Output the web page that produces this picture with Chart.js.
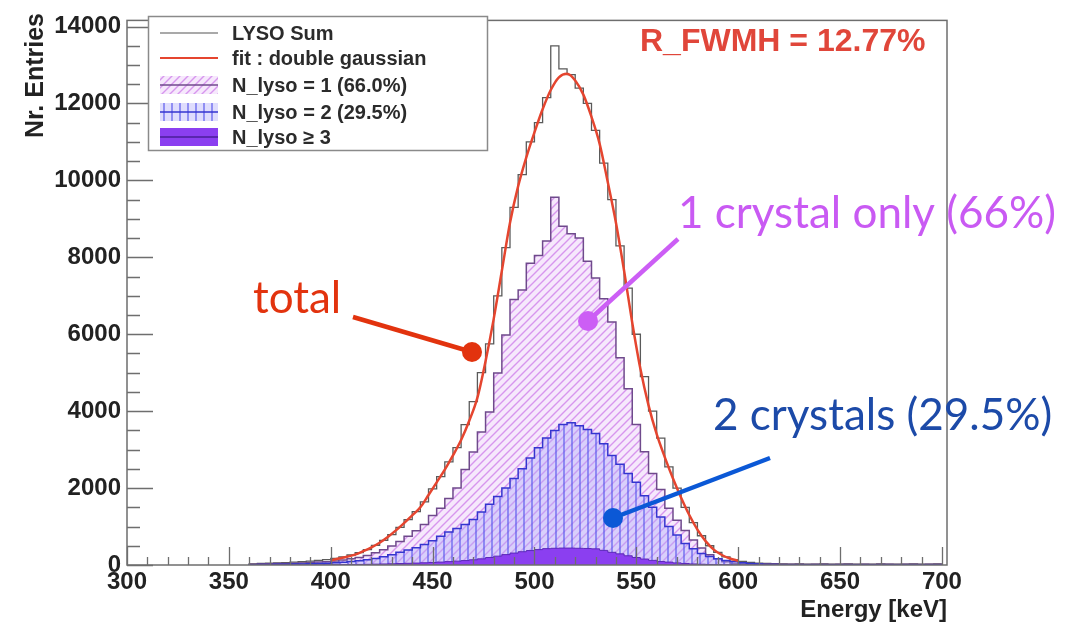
<!DOCTYPE html>
<html>
<head>
<meta charset="utf-8">
<title>LYSO energy spectrum</title>
<script src="https://cdn.jsdelivr.net/npm/chart.js@4.4.0/dist/chart.umd.min.js"></script>
<style>
  html, body { margin: 0; padding: 0; background: #ffffff; }
  #wrap { width: 1085px; height: 625px; position: relative; }
</style>
</head>
<body>
<div id="wrap"><canvas id="energyChart" width="1085" height="625"></canvas></div>
<script>
// Histogram binning (keV)
const BIN_START = 360;
const BIN_WIDTH = 4;

// LYSO Sum, entries per bin (bins 360-364 ... 696-700)
const lysoSum = [
  30, 40, 45, 55, 60, 75, 85, 100, 120, 140,
  170, 210, 260, 320, 400, 510, 640, 790, 980, 1180,
  1390, 1640, 1980, 2300, 2680, 3050, 3650, 4250, 5000, 5750,
  7000, 8250, 9300, 10150, 11000, 11500, 12150, 13500, 12900, 12750,
  12400, 12000, 11300, 10450, 9500, 8300, 7200, 6000, 4900, 4000,
  3300, 2550, 2000, 1500, 1100, 760, 500, 330, 210, 140,
  95, 65, 50, 40, 35, 30, 25, 30, 20, 25,
  30, 20, 25, 30, 20, 25, 20, 30, 25, 20,
  25, 30, 20, 25, 30
];

// N_lyso = 1
const nLyso1 = [
  22, 28, 31, 37, 40, 48, 55, 64, 76, 86,
  104, 130, 160, 197, 247, 318, 398, 493, 612, 746,
  890, 1052, 1284, 1474, 1732, 2000, 2485, 2935, 3460, 3975,
  4990, 5980, 6900, 7150, 7845, 8050, 8425, 9565, 8810, 8610,
  8500, 7900, 7460, 6920, 6320, 5390, 4580, 3655, 2945, 2380,
  1960, 1475, 1165, 900, 652, 440, 266, 160, 84, 46,
  32, 23, 23, 24, 24, 22, 19, 22, 15, 19,
  22, 15, 19, 22, 15, 19, 15, 22, 19, 15,
  19, 22, 15, 19, 22
];

// N_lyso = 2
const nLyso2 = [
  8, 12, 14, 18, 20, 25, 28, 33, 40, 48,
  58, 70, 88, 108, 135, 170, 215, 265, 330, 390,
  450, 530, 630, 750, 860, 950, 1050, 1180, 1380, 1580,
  1780, 2000, 2250, 2500, 2780, 3050, 3300, 3500, 3650, 3700,
  3620, 3520, 3420, 3150, 2850, 2620, 2380, 2150, 1800, 1500,
  1250, 1000, 780, 560, 420, 300, 220, 160, 120, 90,
  60, 40, 25, 15, 10, 8, 6, 8, 5, 6,
  8, 5, 6, 8, 5, 6, 5, 8, 6, 5,
  6, 8, 5, 6, 8
];

// N_lyso >= 3
const nLyso3 = [
  0, 0, 0, 0, 0, 2, 2, 3, 4, 6,
  8, 10, 12, 15, 18, 22, 27, 32, 38, 44,
  50, 58, 66, 76, 88, 100, 115, 135, 160, 195,
  230, 270, 310, 345, 375, 400, 425, 435, 440, 440,
  435, 430, 420, 380, 330, 290, 240, 195, 155, 120,
  90, 75, 55, 40, 28, 20, 14, 10, 6, 4,
  3, 2, 2, 1, 1, 0, 0, 0, 0, 0,
  0, 0, 0, 0, 0, 0, 0, 0, 0, 0,
  0, 0, 0, 0, 0
];

// Double gaussian fit, sampled every 4 keV from 400 to 600
const FIT_START = 400;
const FIT_STEP = 4;
const fitValues = [
  120, 170, 215, 270, 360, 460, 580, 730, 900, 1090,
  1290, 1500, 1820, 2150, 2480, 2850, 3250, 3750, 4350, 5300,
  6400, 7650, 8900, 9850, 10600, 11250, 11850, 12350, 12680, 12770,
  12600, 12230, 11650, 10950, 9950, 8900, 7650, 6300, 5100, 4150,
  3400, 2800, 2250, 1750, 1300, 920, 620, 400, 260, 170, 110
];

const xTickValues = [300, 350, 400, 450, 500, 550, 600, 650, 700];
const yTickValues = [0, 2000, 4000, 6000, 8000, 10000, 12000, 14000];

const legendLabels = ['LYSO Sum', 'fit : double gaussian', 'N_lyso = 1 (66.0%)', 'N_lyso = 2 (29.5%)', 'N_lyso \u2265 3'];
const resolutionText = 'R_FWMH = 12.77%';
const noteTotal = 'total';
const noteOne = '1 crystal only (66%)';
const noteTwo = '2 crystals (29.5%)';

const ROOT_FONT = '"Liberation Sans", Arial, Helvetica, sans-serif';
const NOTE_FONT = 'Lato, "Open Sans", sans-serif';

/**
 * Turn per-bin values into points for a stepped line
 */
function toSteps(values) {
  const pts = values.map((v, i) => ({ x: BIN_START + (i + 1) * BIN_WIDTH, y: v }));
  pts.unshift({ x: BIN_START, y: 0 });
  return pts;
}

/**
 * Small tiles used as ROOT-like fill styles
 */
function makeHatch(kind) {
  const size = 8;
  const c = document.createElement('canvas');
  c.width = size;
  c.height = size;
  const g = c.getContext('2d');
  if (kind === 'diag') {
    g.fillStyle = 'rgba(246,232,252,1)';
    g.fillRect(0, 0, size, size);
    g.strokeStyle = '#d796ee';
    g.lineWidth = 1.4;
    g.beginPath();
    g.moveTo(0, size); g.lineTo(size, 0);
    g.moveTo(-1, 1); g.lineTo(1, -1);
    g.moveTo(size - 1, size + 1); g.lineTo(size + 1, size - 1);
    g.stroke();
  } else {
    g.fillStyle = 'rgba(175,170,250,0.40)';
    g.fillRect(0, 0, size, size);
    g.strokeStyle = '#5c5cec';
    g.lineWidth = 1.2;
    g.beginPath();
    g.moveTo(4, 0); g.lineTo(4, size);
    g.stroke();
  }
  return g.createPattern(c, 'repeat');
}

const diagHatch = makeHatch('diag');
const vertHatch = makeHatch('vert');

// Frame and inward ticks, ROOT style
const rootFrame = {
  id: 'rootFrame',
  afterDatasetsDraw(chart) {
    const { ctx, chartArea: a, scales: { x, y } } = chart;
    ctx.save();
    ctx.strokeStyle = '#6e6e6e';
    ctx.lineWidth = 1.5;
    ctx.strokeRect(a.left, a.top, a.right - a.left, a.bottom - a.top);

    ctx.lineWidth = 1.3;
    ctx.beginPath();
    for (let v = 0; v <= y.max; v += 500) {
      const py = Math.round(y.getPixelForValue(v)) + 0.5;
      const len = v % 2000 === 0 ? 26 : 13;
      ctx.moveTo(a.left, py);
      ctx.lineTo(a.left + len, py);
    }
    for (let v = 300; v <= x.max; v += 10) {
      const px = Math.round(x.getPixelForValue(v)) + 0.5;
      const len = v % 50 === 0 ? 18 : 8;
      ctx.moveTo(px, a.bottom);
      ctx.lineTo(px, a.bottom - len);
    }
    ctx.stroke();
    ctx.restore();
  }
};

function drawLegend(ctx) {
  const left = 148, top = 16, w = 339, h = 134;
  ctx.save();
  ctx.fillStyle = '#ffffff';
  ctx.fillRect(left, top, w, h);
  ctx.strokeStyle = '#8a8a8a';
  ctx.lineWidth = 1.5;
  ctx.strokeRect(left + 0.5, top + 0.5, w, h);

  const rows = [33, 58, 85, 112, 137];
  const sx = 160, sw = 58;

  // LYSO Sum
  ctx.strokeStyle = '#555555';
  ctx.lineWidth = 1.2;
  ctx.beginPath(); ctx.moveTo(sx, rows[0]); ctx.lineTo(sx + sw, rows[0]); ctx.stroke();
  // fit
  ctx.strokeStyle = '#e5452f';
  ctx.lineWidth = 2.2;
  ctx.beginPath(); ctx.moveTo(sx, rows[1]); ctx.lineTo(sx + sw, rows[1]); ctx.stroke();
  // N_lyso = 1
  ctx.fillStyle = diagHatch;
  ctx.fillRect(sx, rows[2] - 9, sw, 18);
  ctx.strokeStyle = '#6f4a8c';
  ctx.lineWidth = 1.5;
  ctx.beginPath(); ctx.moveTo(sx, rows[2]); ctx.lineTo(sx + sw, rows[2]); ctx.stroke();
  // N_lyso = 2
  ctx.fillStyle = vertHatch;
  ctx.fillRect(sx, rows[3] - 9, sw, 18);
  ctx.strokeStyle = '#3535cf';
  ctx.beginPath(); ctx.moveTo(sx, rows[3]); ctx.lineTo(sx + sw, rows[3]); ctx.stroke();
  // N_lyso >= 3
  ctx.fillStyle = '#8b3ff0';
  ctx.fillRect(sx, rows[4] - 9, sw, 18);
  ctx.strokeStyle = '#4a1f9a';
  ctx.beginPath(); ctx.moveTo(sx, rows[4]); ctx.lineTo(sx + sw, rows[4]); ctx.stroke();

  ctx.fillStyle = '#2b2b2b';
  ctx.font = 'bold 20px ' + ROOT_FONT;
  ctx.textAlign = 'left';
  ctx.textBaseline = 'middle';
  legendLabels.forEach((label, i) => ctx.fillText(label, 232, rows[i] + 1));
  ctx.restore();
}

function drawPointer(ctx, color, x1, y1, x2, y2) {
  ctx.strokeStyle = color;
  ctx.fillStyle = color;
  ctx.lineWidth = 4.5;
  ctx.lineCap = 'butt';
  ctx.beginPath(); ctx.moveTo(x1, y1); ctx.lineTo(x2, y2); ctx.stroke();
  ctx.beginPath(); ctx.arc(x2, y2, 10, 0, Math.PI * 2); ctx.fill();
}

// Legend, titles and hand annotations
const overlays = {
  id: 'overlays',
  afterDraw(chart) {
    const ctx = chart.ctx;
    drawLegend(ctx);

    ctx.save();
    // axis titles
    ctx.fillStyle = '#222222';
    ctx.font = 'bold 24px ' + ROOT_FONT;
    ctx.textAlign = 'right';
    ctx.textBaseline = 'alphabetic';
    ctx.fillText('Energy [keV]', 947, 617);

    ctx.save();
    ctx.translate(43, 13);
    ctx.rotate(-Math.PI / 2);
    ctx.font = 'bold 25px ' + ROOT_FONT;
    ctx.textAlign = 'right';
    ctx.textBaseline = 'alphabetic';
    ctx.fillText('Nr. Entries', 0, 0);
    ctx.restore();

    // resolution text
    ctx.fillStyle = '#e0463a';
    ctx.font = 'bold 32px ' + ROOT_FONT;
    ctx.textAlign = 'left';
    ctx.fillText(resolutionText, 640, 51);

    // annotations
    ctx.font = '44px ' + NOTE_FONT;
    ctx.fillStyle = '#e2330e';
    ctx.fillText(noteTotal, 253, 313);
    drawPointer(ctx, '#e2330e', 353, 317, 472, 352);

    ctx.fillStyle = '#c95af3';
    ctx.fillText(noteOne, 678, 228);
    drawPointer(ctx, '#cc5ef5', 678, 239, 588, 321);

    ctx.fillStyle = '#1c4aa8';
    ctx.fillText(noteTwo, 713, 430);
    drawPointer(ctx, '#0b58d6', 770, 458, 613, 518);
    ctx.restore();
  }
};

function buildChart() {
  const fitPoints = fitValues.map((v, i) => ({ x: FIT_START + i * FIT_STEP, y: v }));
  const ctx = document.getElementById('energyChart').getContext('2d');

  new Chart(ctx, {
    type: 'line',
    data: {
      datasets: [
        {
          label: 'fit : double gaussian',
          data: fitPoints,
          borderColor: '#e5452f',
          borderWidth: 2.5,
          cubicInterpolationMode: 'monotone',
          fill: false,
          order: 0
        },
        {
          label: 'N_lyso >= 3',
          data: toSteps(nLyso3),
          stepped: 'after',
          borderColor: '#5a28b8',
          borderWidth: 1,
          backgroundColor: '#8b3ff0',
          fill: 'origin',
          order: 1
        },
        {
          label: 'N_lyso = 2',
          data: toSteps(nLyso2),
          stepped: 'after',
          borderColor: '#3535cf',
          borderWidth: 1.5,
          backgroundColor: vertHatch,
          fill: 'origin',
          order: 2
        },
        {
          label: 'N_lyso = 1',
          data: toSteps(nLyso1),
          stepped: 'after',
          borderColor: '#6f4a8c',
          borderWidth: 1.5,
          backgroundColor: diagHatch,
          fill: 'origin',
          order: 3
        },
        {
          label: 'LYSO Sum',
          data: toSteps(lysoSum),
          stepped: 'after',
          borderColor: '#5a5a5a',
          borderWidth: 1.3,
          fill: false,
          order: 4
        }
      ]
    },
    options: {
      responsive: false,
      animation: false,
      devicePixelRatio: 1,
      layout: { padding: { left: 0, top: 14, right: 138, bottom: 0 } },
      elements: { point: { radius: 0 } },
      plugins: {
        legend: { display: false },
        tooltip: { enabled: false }
      },
      scales: {
        x: {
          type: 'linear',
          min: 300,
          max: 702.5,
          afterBuildTicks: (s) => { s.ticks = xTickValues.map(v => ({ value: v })); },
          afterFit: (s) => { s.height = 60; },
          ticks: {
            autoSkip: false,
            maxRotation: 0,
            padding: 3,
            color: '#222222',
            callback: (v) => String(v),
            font: { family: ROOT_FONT, size: 24, weight: 'bold' }
          },
          grid: { display: false, drawTicks: false },
          border: { display: false }
        },
        y: {
          type: 'linear',
          min: 0,
          max: 14160,
          afterBuildTicks: (s) => { s.ticks = yTickValues.map(v => ({ value: v })); },
          afterFit: (s) => { s.width = 127; },
          ticks: {
            padding: 6,
            color: '#222222',
            callback: (v) => String(v),
            font: { family: ROOT_FONT, size: 24, weight: 'bold' }
          },
          grid: { display: false, drawTicks: false },
          border: { display: false }
        }
      }
    },
    plugins: [rootFrame, overlays]
  });
}

document.addEventListener('DOMContentLoaded', function () {
  buildChart();
});
</script>
</body>
</html>
